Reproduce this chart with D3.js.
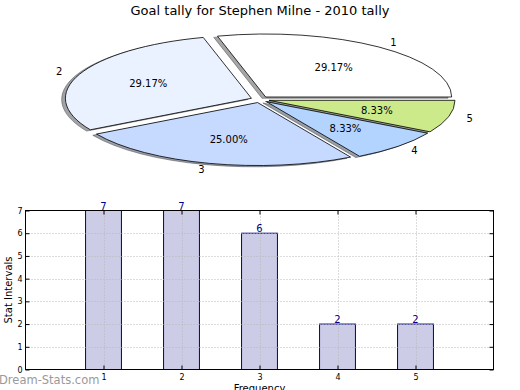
<!DOCTYPE html>
<html><head><meta charset="utf-8">
<script src="https://cdn.jsdelivr.net/npm/d3@7"></script>
<style>body{margin:0;background:#fff}text{font-family:"DejaVu Sans",sans-serif}</style>
</head><body>
<svg id="c" width="520" height="390"></svg>
<script>
const title = "Goal tally for Stephen Milne - 2010 tally";
const categories = ["1","2","3","4","5"];
const values = [7,7,6,2,2];
const sliceColors = ["#ffffff","#eaf1ff","#c6d9ff","#b3d4ff","#cdea8a"];
const yTicks = [0,1,2,3,4,5,6,7];
const yLabel = "Stat Intervals";
const xLabel = "Frequency";
const watermark = "Dream-Stats.com";

const svg = d3.select("#c");
svg.append("rect").attr("width",520).attr("height",390).attr("fill","#fff");
svg.append("text").attr("x",260).attr("y",15).attr("text-anchor","middle")
  .attr("font-size",13).text(title);

// ---- Pie ----
const cx=260, cy=99.5, rx=186, ry=63, explode=0.05;
const pie = d3.pie().sort(null).startAngle(Math.PI/2).endAngle(Math.PI/2-2*Math.PI);
const arcs = pie(values);
const arc = d3.arc().innerRadius(0).outerRadius(1);
const total = d3.sum(values);
function off(d,k){const a=(d.startAngle+d.endAngle)/2;return [cx+k*rx*Math.sin(a), cy-k*ry*Math.cos(a)];}
const shadowG = svg.append("g");
const wedgeG = svg.append("g");
arcs.forEach((d,i)=>{
  const [ox,oy]=off(d,explode);
  const c=d3.rgb(sliceColors[i]);
  const sc=d3.rgb(c.r*0.3,c.g*0.3,c.b*0.3);
  shadowG.append("path").attr("d",arc(d))
    .attr("transform",`translate(${ox-0.02*rx},${oy+0.02*ry}) scale(${rx},${ry})`)
    .attr("fill",sc).attr("fill-opacity",0.5).attr("stroke",sc).attr("stroke-opacity",0.5)
    .attr("stroke-width",1).attr("vector-effect","non-scaling-stroke");
});
arcs.forEach((d,i)=>{
  const [ox,oy]=off(d,explode);
  wedgeG.append("path").attr("d",arc(d))
    .attr("transform",`translate(${ox},${oy}) scale(${rx},${ry})`)
    .attr("fill",sliceColors[i]).attr("stroke","#000").attr("stroke-width",0.8)
    .attr("vector-effect","non-scaling-stroke");
  const a=(d.startAngle+d.endAngle)/2;
  const lx=ox+1.1*rx*Math.sin(a), ly=oy-1.1*ry*Math.cos(a);
  svg.append("text").attr("x",lx).attr("y",ly).attr("dy","0.35em")
    .attr("text-anchor",Math.sin(a)>0?"start":"end").attr("font-size",10).text(categories[i]);
  const px=ox+0.6*rx*Math.sin(a), py=oy-0.6*ry*Math.cos(a);
  svg.append("text").attr("x",px).attr("y",py).attr("dy","0.35em")
    .attr("text-anchor","middle").attr("font-size",10)
    .text((values[i]/total*100).toFixed(2)+"%");
});

// ---- Bar chart ----
const L=25.5,R=493.5,T=210.5,B=369.5;
const x=d3.scaleLinear().domain([0,6]).range([L,R]);
const y=d3.scaleLinear().domain([0,7]).range([B,T]);
const xs=categories.map(Number);
const bw=x(0.46)-x(0);
const g=svg.append("g");
g.selectAll("rect.bar").data(values).join("rect").attr("class","bar")
  .attr("x",(d,i)=>x(xs[i])-bw/2).attr("y",d=>y(d)).attr("width",bw).attr("height",d=>y(0)-y(d))
  .attr("fill","#ccccE6").attr("stroke","#000080").attr("stroke-width",1);
// grid
const grid=svg.append("g").attr("stroke","#b8b8b8").attr("stroke-dasharray","1,2").attr("stroke-width",1);
yTicks.slice(1,-1).forEach(t=>grid.append("line").attr("x1",L).attr("x2",R).attr("y1",Math.round(y(t))+0.5).attr("y2",Math.round(y(t))+0.5));
xs.forEach(t=>grid.append("line").attr("x1",Math.round(x(t))+0.5).attr("x2",Math.round(x(t))+0.5).attr("y1",T).attr("y2",B));
// axes
const fmt=d3.format("d");
const yAx=svg.append("g").attr("transform",`translate(${L},0)`)
  .call(d3.axisLeft(y).tickValues(yTicks).tickSize(-4).tickPadding(3).tickFormat(fmt));
const yAxR=svg.append("g").attr("transform",`translate(${R},0)`)
  .call(d3.axisRight(y).tickValues(yTicks).tickSize(-4).tickFormat(""));
const xAx=svg.append("g").attr("transform",`translate(0,${B})`)
  .call(d3.axisBottom(x).tickValues(xs).tickSize(-4).tickPadding(5).tickFormat(fmt));
const xAxT=svg.append("g").attr("transform",`translate(0,${T})`)
  .call(d3.axisTop(x).tickValues(xs).tickSize(-4).tickFormat(""));
[yAx,yAxR,xAx,xAxT].forEach(a=>{a.select(".domain").remove();a.selectAll("text").attr("font-size",8).attr("font-family","DejaVu Sans").attr("fill","#000");a.selectAll("line").attr("stroke","#000");});
svg.append("rect").attr("x",L).attr("y",T).attr("width",R-L).attr("height",B-T)
  .attr("fill","none").attr("stroke","#000").attr("stroke-width",1);
// value labels
svg.selectAll("text.val").data(values).join("text").attr("class","val")
  .attr("x",(d,i)=>x(xs[i])).attr("y",d=>y(d)-1).attr("text-anchor","middle")
  .attr("font-size",10).attr("fill","#00008b").text(d=>d);
svg.append("text").attr("transform",`translate(12,${(T+B)/2}) rotate(-90)`).attr("text-anchor","middle")
  .attr("font-size",10).text(yLabel);
svg.append("text").attr("x",(L+R)/2).attr("y",392).attr("text-anchor","middle").attr("font-size",10).text(xLabel);
svg.append("text").attr("x",-1).attr("y",384).attr("font-size",11.5).attr("fill","#9a9a9a").text(watermark);
</script>
</body></html>
